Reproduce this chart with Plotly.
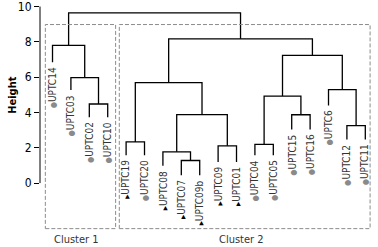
import plotly.graph_objects as go

# ---- data ----
labels = ["UPTC14", "UPTC03", "UPTC02", "UPTC10", "UPTC19", "UPTC20", "UPTC08",
          "UPTC07", "UPTC09b", "UPTC09", "UPTC01", "UPTC04", "UPTC05", "UPTC15",
          "UPTC16", "UPTC6", "UPTC12", "UPTC11"]
leaf_type = ["circle", "circle", "circle", "circle", "triangle", "circle", "triangle",
             "triangle", "triangle", "triangle", "triangle", "circle", "circle", "circle",
             "circle", "circle", "circle", "circle"]
# height where each leaf's branch ends (hanging leaves)
leaf_ends = [6.84, 5.27, 3.73, 3.73, 1.58, 1.58, 0.98, 0.45, 0.45, 1.2, 1.2,
             1.58, 1.58, 3.03, 3.03, 4.4, 2.47, 2.47]
# merges: (left, right, height); negative = leaf number (1-based), positive = merge number
merge_left = [-8, -7, -10, -12, -5, -17, 2, -14, -3, 4, -16, 5, -2, 10, -1, 12, 15]
merge_right = [-9, 1, -11, -13, -6, -18, 3, -15, -4, 8, 6, 7, 9, 11, 13, 14, 16]
merge_height = [1.28, 1.77, 2.11, 2.19, 2.33, 3.26, 3.88, 3.87, 4.48, 4.93, 5.29,
                5.69, 5.97, 7.23, 7.80, 8.17, 9.64]
cluster_names = ["Cluster 1", "Cluster 2"]
cluster_first = [1, 5]
cluster_last = [4, 18]
y_ticks = [0, 2, 4, 6, 8, 10]

FONT = "DejaVu Sans Condensed, DejaVu Sans, sans-serif"

# ---- build dendrogram segments ----
node_x, node_y = [], []


def child_pos(c):
    if c < 0:
        return float(-c), leaf_ends[-c - 1]
    return node_x[c - 1], node_y[c - 1]


xs, ys = [], []
for l, r, h in zip(merge_left, merge_right, merge_height):
    xl, yl = child_pos(l)
    xr, yr = child_pos(r)
    xs += [xl, xl, xr, xr, None]
    ys += [yl, h, h, yr, None]
    node_x.append((xl + xr) / 2)
    node_y.append(h)

fig = go.Figure()
fig.add_trace(go.Scatter(x=xs, y=ys, mode="lines",
                         line=dict(color="black", width=1.3),
                         hoverinfo="skip", showlegend=False))

annotations = []
for i, (lab, t, ye) in enumerate(zip(labels, leaf_type, leaf_ends)):
    if t == "circle":
        glyph = '<span style="color:#8a8a8a;font-size:8px">●</span>'
    else:
        glyph = '<span style="color:black;font-size:6px">▶</span>'
    annotations.append(dict(x=i + 1, y=ye, xref="x", yref="y", text=glyph + lab,
                            textangle=-90, showarrow=False, xanchor="center",
                            yanchor="top", yshift=-3,
                            font=dict(family=FONT, size=10, color="#333333")))

shapes = []
box_pad_l = [0.39, 0.37]
box_pad_r = [0.43, 0.26]
for name, a, b, pl, pr in zip(cluster_names, cluster_first, cluster_last, box_pad_l, box_pad_r):
    shapes.append(dict(type="rect", xref="x", yref="y", x0=a - pl, x1=b + pr,
                       y0=-2.58, y1=8.98,
                       line=dict(color="#8c8c8c", width=1, dash="4px,2px")))
    annotations.append(dict(x=(a + b) / 2 - 0.22, y=-3.18, xref="x", yref="y", text=name,
                            showarrow=False, xanchor="center", yanchor="middle",
                            font=dict(family=FONT, size=11, color="#333333")))

# y axis line only over tick range
shapes.append(dict(type="line", xref="paper", yref="y", x0=0, x1=0, y0=0, y1=10,
                   line=dict(color="black", width=1)))
annotations.append(dict(x=0, y=5, xref="paper", yref="y", text="<b>Height</b>",
                        textangle=-90, showarrow=False, xanchor="center", yanchor="middle",
                        xshift=-27, font=dict(family=FONT, size=11, color="black")))

fig.update_layout(
    width=378, height=247,
    margin=dict(l=40, r=0, t=6, b=0),
    paper_bgcolor="white", plot_bgcolor="white",
    xaxis=dict(range=[0.32, 18.69], visible=False),
    yaxis=dict(range=[-3.62, 10.03], tickvals=y_ticks, ticks="outside", ticklen=5,
               tickcolor="black", tickwidth=1, showgrid=False, zeroline=False,
               showline=False, ticklabeloverflow="allow",
               tickfont=dict(family=FONT, size=12, color="black")),
    shapes=shapes, annotations=annotations,
)

fig.write_html("out.html", config={"displayModeBar": False},
               post_script="document.body.style.margin='0';")
